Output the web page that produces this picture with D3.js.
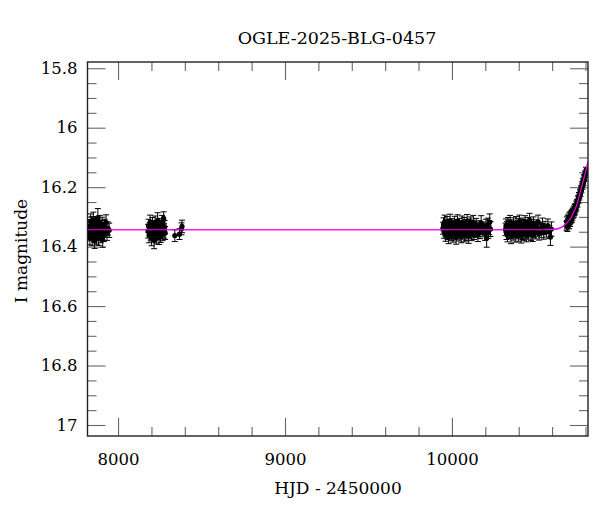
<!DOCTYPE html>
<html><head><meta charset="utf-8">
<script src="https://cdn.jsdelivr.net/npm/d3@7"></script>
<style>html,body{margin:0;padding:0;background:#fff;}svg{display:block;}</style>
</head><body>
<script>
// ---- data (HJD-2450000, I mag, error) ----
const title = "OGLE-2025-BLG-0457";
const xLabel = "HJD - 2450000";
const yLabel = "I magnitude";
const xTicksMajor = [8000, 9000, 10000];
const yTicksMajor = [15.8, 16, 16.2, 16.4, 16.6, 16.8, 17];

const s2017 = [[7826,16.352,0.024],[7829,16.331,0.022],[7831,16.368,0.026],[7834,16.340,0.021],[7836,16.315,0.025],[7838,16.357,0.023],[7841,16.344,0.022],[7843,16.326,0.027],[7845,16.373,0.024],[7848,16.338,0.021],[7850,16.349,0.023],[7852,16.310,0.026],[7855,16.362,0.022],[7857,16.335,0.024],[7860,16.381,0.025],[7862,16.346,0.021],[7864,16.322,0.023],[7867,16.355,0.022],[7869,16.339,0.024],[7872,16.366,0.026],[7874,16.329,0.021],[7876,16.350,0.023],[7879,16.302,0.030],[7881,16.343,0.022],[7884,16.371,0.025],[7886,16.334,0.023],[7889,16.358,0.022],[7891,16.319,0.024],[7894,16.347,0.021],[7896,16.364,0.023],[7899,16.337,0.025],[7902,16.353,0.022],[7905,16.325,0.024],[7908,16.376,0.026],[7911,16.341,0.022],[7915,16.360,0.023],[7919,16.332,0.024],[7923,16.348,0.021],[7928,16.318,0.025],[7934,16.356,0.023],[7940,16.339,0.022],[7947,16.345,0.024]];

const s2018 = [[8180,16.348,0.023],[8183,16.330,0.022],[8186,16.362,0.025],[8189,16.341,0.021],[8192,16.318,0.024],[8195,16.355,0.023],[8198,16.336,0.022],[8201,16.371,0.026],[8204,16.344,0.021],[8207,16.326,0.024],[8210,16.359,0.022],[8213,16.338,0.023],[8216,16.379,0.028],[8219,16.349,0.022],[8222,16.321,0.024],[8225,16.357,0.023],[8228,16.334,0.022],[8231,16.366,0.025],[8234,16.343,0.021],[8237,16.312,0.026],[8240,16.352,0.023],[8243,16.337,0.022],[8246,16.369,0.024],[8249,16.328,0.023],[8252,16.346,0.021],[8255,16.361,0.025],[8258,16.333,0.022],[8261,16.351,0.023],[8264,16.319,0.024],[8267,16.358,0.022],[8270,16.340,0.023],[8273,16.305,0.022],[8276,16.347,0.024],[8279,16.335,0.023],[8282,16.354,0.022]];

const s2018b = [[8340,16.363,0.020],[8368,16.358,0.018],[8380,16.340,0.020],[8383,16.332,0.021]];

const s2023 = [[9946,16.338,0.020],[9950,16.325,0.022],[9953,16.351,0.021],[9956,16.317,0.023],[9959,16.344,0.020],[9962,16.360,0.022],[9965,16.331,0.021],[9968,16.348,0.020],[9971,16.322,0.023],[9974,16.355,0.021],[9977,16.340,0.020],[9980,16.366,0.024],[9983,16.329,0.021],[9986,16.346,0.020],[9989,16.313,0.022],[9992,16.352,0.021],[9995,16.336,0.020],[9998,16.358,0.022],[10001,16.327,0.021],[10004,16.343,0.020],[10007,16.362,0.023],[10010,16.334,0.021],[10013,16.349,0.020],[10016,16.320,0.022],[10019,16.356,0.021],[10022,16.339,0.020],[10025,16.368,0.024],[10028,16.330,0.021],[10031,16.345,0.020],[10034,16.316,0.023],[10037,16.353,0.021],[10040,16.337,0.020],[10043,16.359,0.022],[10046,16.326,0.021],[10049,16.347,0.020],[10052,16.333,0.021],[10055,16.364,0.023],[10058,16.341,0.020],[10061,16.319,0.022],[10064,16.354,0.021],[10067,16.335,0.020],[10070,16.350,0.021],[10073,16.324,0.022],[10076,16.361,0.023],[10079,16.342,0.020],[10082,16.330,0.021],[10085,16.357,0.022],[10088,16.338,0.020],[10091,16.315,0.023],[10094,16.348,0.021],[10097,16.336,0.020],[10100,16.365,0.024],[10103,16.328,0.021],[10106,16.344,0.020],[10109,16.352,0.022],[10112,16.321,0.021],[10115,16.340,0.020],[10118,16.358,0.022],[10121,16.332,0.021],[10124,16.346,0.020],[10128,16.318,0.023],[10132,16.355,0.021],[10136,16.337,0.022],[10140,16.349,0.020],[10145,16.326,0.021],[10150,16.343,0.022],[10156,16.360,0.023],[10162,16.334,0.021],[10168,16.351,0.022],[10175,16.320,0.024],[10182,16.345,0.022],[10190,16.338,0.021],[10198,16.356,0.023],[10204,16.330,0.022],[10208,16.372,0.030],[10211,16.344,0.022],[10215,16.327,0.023],[10219,16.350,0.022],[10223,16.336,0.024],[10226,16.318,0.028],[10231,16.341,0.025]];

const s2024 = [[10321,16.342,0.021],[10324,16.329,0.022],[10327,16.355,0.021],[10330,16.336,0.020],[10333,16.361,0.023],[10336,16.323,0.021],[10339,16.347,0.020],[10342,16.334,0.022],[10345,16.352,0.021],[10348,16.318,0.023],[10351,16.344,0.020],[10354,16.366,0.024],[10357,16.331,0.021],[10360,16.349,0.020],[10363,16.338,0.022],[10366,16.357,0.021],[10369,16.325,0.022],[10372,16.345,0.020],[10375,16.335,0.021],[10378,16.362,0.023],[10381,16.340,0.020],[10384,16.321,0.022],[10387,16.353,0.021],[10390,16.337,0.020],[10393,16.348,0.021],[10396,16.328,0.022],[10399,16.359,0.023],[10402,16.343,0.020],[10405,16.316,0.022],[10408,16.350,0.021],[10411,16.333,0.020],[10414,16.364,0.024],[10417,16.339,0.021],[10420,16.326,0.022],[10423,16.355,0.021],[10426,16.341,0.020],[10429,16.330,0.021],[10432,16.358,0.022],[10435,16.344,0.020],[10438,16.319,0.023],[10441,16.351,0.021],[10444,16.336,0.020],[10447,16.361,0.023],[10450,16.332,0.021],[10453,16.347,0.020],[10456,16.324,0.022],[10459,16.354,0.021],[10462,16.338,0.020],[10465,16.312,0.024],[10468,16.346,0.021],[10471,16.335,0.020],[10474,16.357,0.022],[10477,16.329,0.021],[10480,16.343,0.020],[10484,16.360,0.023],[10488,16.322,0.022],[10492,16.349,0.021],[10496,16.337,0.020],[10500,16.352,0.022],[10505,16.331,0.021],[10510,16.345,0.020],[10516,16.317,0.023],[10522,16.356,0.022],[10528,16.339,0.021],[10535,16.348,0.022],[10542,16.327,0.023],[10550,16.353,0.022],[10558,16.336,0.021],[10566,16.346,0.022],[10575,16.330,0.023],[10583,16.351,0.022],[10590,16.368,0.028],[10596,16.341,0.024]];

const s2025 = [[10686,16.330,0.015],[10688,16.315,0.015],[10690,16.326,0.014],[10692,16.334,0.015],[10694,16.310,0.014],[10696,16.322,0.015],[10698,16.305,0.014],[10700,16.318,0.014],[10702,16.325,0.015],[10704,16.300,0.014],[10706,16.312,0.014],[10708,16.319,0.013],[10710,16.296,0.014],[10712,16.308,0.013],[10714,16.302,0.013],[10716,16.291,0.013],[10718,16.306,0.013],[10720,16.288,0.013],[10722,16.298,0.013],[10724,16.283,0.012],[10726,16.292,0.012],[10728,16.279,0.012],[10730,16.289,0.012],[10732,16.275,0.012],[10734,16.284,0.012],[10736,16.270,0.012],[10738,16.279,0.012],[10740,16.266,0.011],[10742,16.272,0.011],[10744,16.258,0.011],[10746,16.266,0.011],[10749,16.252,0.011],[10752,16.256,0.011],[10755,16.240,0.011],[10758,16.243,0.011],[10761,16.228,0.010],[10764,16.233,0.010],[10767,16.217,0.010],[10770,16.222,0.010],[10773,16.205,0.010],[10776,16.209,0.010],[10779,16.192,0.010],[10782,16.197,0.010],[10785,16.180,0.010],[10788,16.185,0.010],[10791,16.168,0.010],[10794,16.171,0.010],[10797,16.156,0.010],[10800,16.158,0.010],[10803,16.143,0.010]];

// model curve
const modelT   = [7817, 10550, 10620, 10660, 10686, 10700, 10716, 10730, 10746, 10756, 10766, 10776, 10786, 10796, 10806, 10815];
const modelMag = [16.343, 16.343, 16.341, 16.334, 16.322, 16.313, 16.300, 16.283, 16.262, 16.243, 16.222, 16.201, 16.180, 16.158, 16.135, 16.113];

// ---- drawing ----
const W = 600, H = 512;
const L = 87.5, R = 588, T = 62, B = 436;
const svg = d3.select("body").append("svg").attr("width", W).attr("height", H);
const font = "'DejaVu Serif', serif";

const x = d3.scaleLinear().domain([7817, 10815]).range([L, R]);
const y = d3.scaleLinear().domain([15.779, 17.037]).range([T, B]);

svg.append("clipPath").attr("id", "clip").append("rect")
  .attr("x", L).attr("y", T).attr("width", R - L).attr("height", B - T);

const xMinor = d3.range(7800, 10900, 200).filter(v => x(v) >= L && x(v) <= R && !xTicksMajor.includes(v));
const yMinor = d3.range(15.8, 17.04, 0.05).map(v => +v.toFixed(2)).filter(v => !yTicksMajor.some(m => Math.abs(m - v) < 1e-6) && y(v) >= T && y(v) <= B);

const tickCol = "#666";
const MAJ = 18, MIN = 9;
function drawAxis(axis, tr) { return svg.append("g").attr("transform", tr).call(axis); }
function styleAxis(g) {
  g.select(".domain").remove();
  g.selectAll("line").attr("stroke", tickCol).attr("stroke-width", 1.1);
  g.selectAll("text").attr("font-family", font).attr("font-size", 16.5).attr("fill", "#000");
}
// bottom
styleAxis(drawAxis(d3.axisTop(x).tickValues(xTicksMajor).tickSize(MAJ).tickFormat(""), `translate(0,${B})`));
styleAxis(drawAxis(d3.axisTop(x).tickValues(xMinor).tickSize(MIN).tickFormat(""), `translate(0,${B})`));
styleAxis(drawAxis(d3.axisBottom(x).tickValues(xTicksMajor).tickSize(0).tickPadding(17).tickFormat(d3.format("d")), `translate(0,${B})`));
// top
styleAxis(drawAxis(d3.axisBottom(x).tickValues(xTicksMajor).tickSize(MAJ).tickFormat(""), `translate(0,${T})`));
styleAxis(drawAxis(d3.axisBottom(x).tickValues(xMinor).tickSize(MIN).tickFormat(""), `translate(0,${T})`));
// left
styleAxis(drawAxis(d3.axisRight(y).tickValues(yTicksMajor).tickSize(MAJ).tickFormat(""), `translate(${L},0)`));
styleAxis(drawAxis(d3.axisRight(y).tickValues(yMinor).tickSize(MIN).tickFormat(""), `translate(${L},0)`));
styleAxis(drawAxis(d3.axisLeft(y).tickValues(yTicksMajor).tickSize(0).tickPadding(10).tickFormat(d => String(d)), `translate(${L},0)`));
// right
styleAxis(drawAxis(d3.axisLeft(y).tickValues(yTicksMajor).tickSize(MAJ).tickFormat(""), `translate(${R},0)`));
styleAxis(drawAxis(d3.axisLeft(y).tickValues(yMinor).tickSize(MIN).tickFormat(""), `translate(${R},0)`));

// data
const allData = [].concat(s2017, s2018, s2018b, s2023, s2024, s2025);
const plot = svg.append("g").attr("clip-path", "url(#clip)");
const line = d3.line().x(d => x(d[0])).y(d => y(d[1])).curve(d3.curveMonotoneX);
plot.append("path").datum(modelT.map((t, i) => [t, modelMag[i]]))
  .attr("d", line).attr("fill", "none").attr("stroke", "#ff00ff").attr("stroke-width", 1.1);

const eb = plot.append("g").attr("stroke", "#000").attr("stroke-width", 1);
eb.selectAll("line.v").data(allData).join("line").attr("class", "v")
  .attr("x1", d => x(d[0])).attr("x2", d => x(d[0]))
  .attr("y1", d => y(d[1] - d[2])).attr("y2", d => y(d[1] + d[2]));
eb.selectAll("line.t").data(allData).join("line").attr("class", "t")
  .attr("x1", d => x(d[0]) - 3).attr("x2", d => x(d[0]) + 3)
  .attr("y1", d => y(d[1] - d[2])).attr("y2", d => y(d[1] - d[2]));
eb.selectAll("line.b").data(allData).join("line").attr("class", "b")
  .attr("x1", d => x(d[0]) - 3).attr("x2", d => x(d[0]) + 3)
  .attr("y1", d => y(d[1] + d[2])).attr("y2", d => y(d[1] + d[2]));
plot.append("g").selectAll("circle").data(allData).join("circle")
  .attr("cx", d => x(d[0])).attr("cy", d => y(d[1])).attr("r", 2.6).attr("fill", "#000");

// model drawn again on top so it stays visible through the points, as in the reference
plot.append("path").datum(modelT.map((t, i) => [t, modelMag[i]]))
  .attr("d", line).attr("fill", "none").attr("stroke", "#ff00ff").attr("stroke-width", 1.1);

// frame
svg.append("rect").attr("x", L).attr("y", T).attr("width", R - L).attr("height", B - T)
  .attr("fill", "none").attr("stroke", "#222").attr("stroke-width", 1.4);

// labels
svg.append("text").attr("x", 337).attr("y", 44).attr("text-anchor", "middle")
  .attr("font-family", font).attr("font-size", 17.5).text(title);
svg.append("text").attr("x", 338).attr("y", 494).attr("text-anchor", "middle")
  .attr("font-family", font).attr("font-size", 17).text(xLabel);
svg.append("text").attr("transform", "translate(27,251) rotate(-90)").attr("text-anchor", "middle")
  .attr("font-family", font).attr("font-size", 17).text(yLabel);
</script>
</body></html>
